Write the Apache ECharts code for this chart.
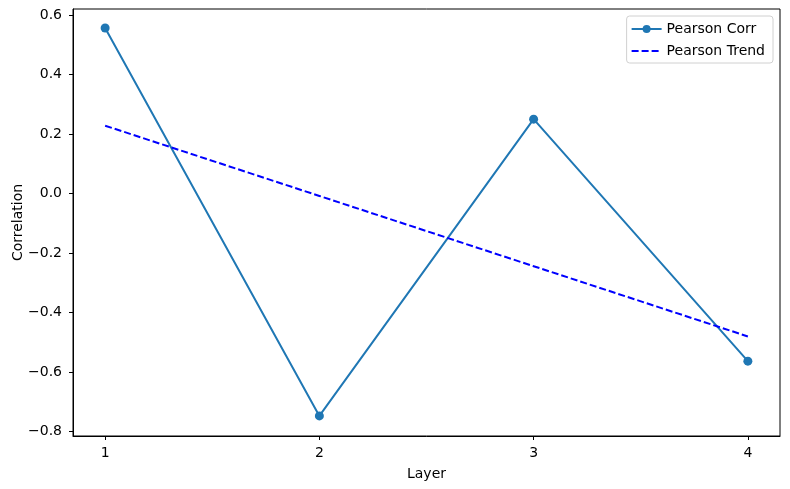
<!DOCTYPE html>
<html><head><meta charset="utf-8">
<script src="https://cdn.jsdelivr.net/npm/echarts@6/dist/echarts.min.js"></script>
<style>html,body{margin:0;padding:0;background:#fff}#c{width:790px;height:489px}</style>
</head><body><div id="c"></div>
<script>
var layers = [1, 2, 3, 4];
var pearsonCorr = [0.556, -0.747, 0.250, -0.563];
var pearsonTrend = [0.228, -0.008, -0.244, -0.480];
var yTicks = [-0.8, -0.6, -0.4, -0.2, 0.0, 0.2, 0.4, 0.6];

var chart = echarts.init(document.getElementById('c'));
function fmt(v){ var s = Number(v).toFixed(1); return s.replace('-', '\u2212'); }
var font = 'DejaVu Sans';
chart.setOption({
  animation: false,
  textStyle: {fontFamily: font},
  grid: {left: 73, right: 10, top: 9, bottom: 53, containLabel: false, outerBoundsMode: 'none', show: true, borderColor: '#000', borderWidth: 1},
  legend: {
    right: 17, top: 16, orient: 'vertical', itemWidth: 30, itemHeight: 10, itemGap: 8,
    padding: [6, 8, 5, 4],
    borderColor: '#d0d0d0', borderWidth: 1, borderRadius: 3, backgroundColor: 'rgba(255,255,255,0.8)',
    textStyle: {fontSize: 14, color: '#000', fontFamily: font},
    data: [{name: 'Pearson Corr'}, {name: 'Pearson Trend', itemStyle: {opacity: 0}}]
  },
  xAxis: {
    type: 'value', min: 0.85, max: 4.15,
    name: 'Layer', nameLocation: 'middle', nameGap: 31, nameMoveOverlap: false,
    nameTextStyle: {fontSize: 14, color: '#000', fontFamily: font},
    axisLine: {show: true, onZero: false, lineStyle: {color: '#000', width: 1}},
    axisTick: {show: true, length: 4, customValues: layers, lineStyle: {color: '#000'}},
    axisLabel: {customValues: layers, fontSize: 14, color: '#000', margin: 10, fontFamily: font},
    splitLine: {show: false}
  },
  yAxis: {
    type: 'value', min: -0.8145, max: 0.620,
    name: 'Correlation', nameLocation: 'middle', nameGap: 48, nameRotate: 90, nameMoveOverlap: false,
    nameTextStyle: {fontSize: 14, color: '#000', fontFamily: font},
    axisLine: {show: true, onZero: false, lineStyle: {color: '#000', width: 1}},
    axisTick: {show: true, length: 4, customValues: yTicks, lineStyle: {color: '#000'}},
    axisLabel: {customValues: yTicks, fontSize: 14, color: '#000', margin: 11, fontFamily: font, formatter: fmt},
    splitLine: {show: false}
  },
  series: [
    {
      name: 'Pearson Corr', type: 'line',
      data: layers.map(function(x, i){ return [x, pearsonCorr[i]]; }),
      symbol: 'circle', symbolSize: 9,
      lineStyle: {color: '#1f77b4', width: 2},
      itemStyle: {color: '#1f77b4'}
    },
    {
      name: 'Pearson Trend', type: 'line',
      data: layers.map(function(x, i){ return [x, pearsonTrend[i]]; }),
      symbol: 'none',
      lineStyle: {color: '#0000ff', width: 2, type: [7, 3]},
      itemStyle: {color: '#0000ff'}
    }
  ]
});
</script></body></html>
